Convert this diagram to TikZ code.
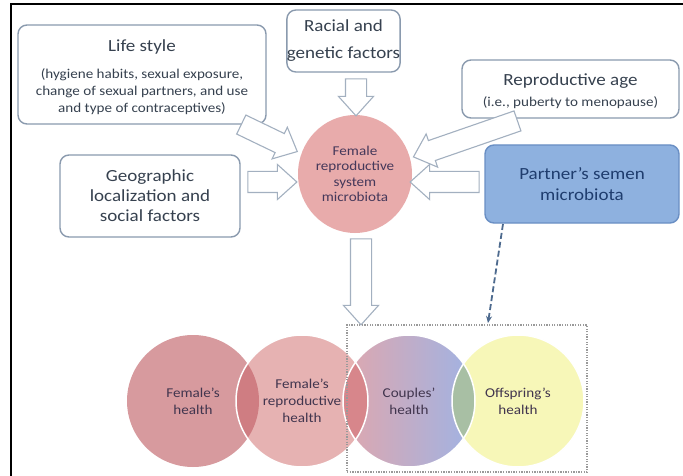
\documentclass[tikz,border=0pt]{standalone}
\usepackage{fontspec}
\setmainfont{Carlito}[FakeStretch=1.12]
\usetikzlibrary{shapes.geometric,shapes.arrows,arrows.meta,calc}
\definecolor{boxline}{HTML}{8A9AAE}
\definecolor{boxtext}{HTML}{36414F}
\definecolor{arrline}{HTML}{A3B0C0}
\definecolor{centerfill}{HTML}{E8ABAB}
\definecolor{centertext}{HTML}{45385A}
\definecolor{partnerfill}{HTML}{8EB1DF}
\definecolor{partnerline}{HTML}{6A8FC4}
\definecolor{partnertext}{HTML}{1F3D6E}
\definecolor{cone}{HTML}{D79A9E}
\definecolor{ctwo}{HTML}{E6B2B2}
\definecolor{cthreeL}{HTML}{DFA7AE}
\definecolor{cthreeR}{HTML}{9FB3E4}
\definecolor{cfour}{HTML}{F7F7B8}
\definecolor{lensA}{HTML}{CF7D82}
\definecolor{lensB}{HTML}{D7868B}
\definecolor{lensC}{HTML}{A8BFA4}
\definecolor{circtextc}{HTML}{41354E}
\definecolor{dashc}{HTML}{4D6A8E}
\definecolor{dotc}{HTML}{9A9A9A}
\newcommand{\hdrtxt}{\fontsize{17}{20}\selectfont}
\newcommand{\subtxt}{\fontsize{13.5}{17}\selectfont}
\begin{document}
\begin{tikzpicture}[x=1pt,y=-1pt,
  box/.style={draw=boxline, line width=1.4pt, rounded corners=9pt, fill=white,
    align=center, text=boxtext, inner sep=0pt},
  barrow/.style={single arrow, draw=arrline, fill=white, line width=1.1pt,
    inner xsep=0pt, inner ysep=10pt, single arrow head extend=7pt,
    single arrow tip angle=84, sloped, allow upside down, midway},
  ctext/.style={align=center, text=circtextc, inner sep=0pt,
    font=\fontsize{13.5}{17}\selectfont},
  circedge/.style={draw=white, line width=1.5pt}]
\useasboundingbox (0,0) rectangle (683,476);
\fill[white] (0,0) rectangle (683,476);
% frame
\draw[line width=2pt] (11,476) -- (11,4) -- (683,4);

% boxes
\node[box, font=\subtxt, minimum width=248pt, minimum height=99pt] (life) at (142,74.5)
  {{\hdrtxt\rule{0pt}{18pt}Life style}\\[10pt](hygiene habits, sexual exposure,\\
   change of sexual partners, and use\\ and type of contraceptives)};
\node[box, font=\hdrtxt, minimum width=109pt, minimum height=62pt] (racial) at (343.5,41)
  {Racial and\\[7pt]genetic factors};
\node[box, font=\subtxt, minimum width=217pt, minimum height=58pt] (repro) at (570.5,89)
  {{\hdrtxt\rule{0pt}{16pt}Reproductive age}\\[4pt](i.e., puberty to menopause)};
\node[box, font=\hdrtxt, minimum width=180pt, minimum height=82pt] (geo) at (150,196)
  {Geographic\\localization and\\social factors};
\node[box, font=\hdrtxt, fill=partnerfill, draw=partnerline, text=partnertext,
  minimum width=194pt, minimum height=78pt] (partner) at (582,184)
  {Partner’s semen\\[1pt]microbiota};

% center ellipse
\node[ellipse, fill=centerfill, minimum width=114pt, minimum height=118pt,
  inner sep=0pt, align=center, text=centertext,
  font=\fontsize{13.5}{15.5}\selectfont] (center) at (355,174)
  {Female\\reproductive\\system\\microbiota};

% hollow block arrows
\coordinate (ra1) at (356,73);  \coordinate (ra2) at (356,110);
\coordinate (la1) at (236,122); \coordinate (la2) at (292,149);
\coordinate (ga1) at (242,182); \coordinate (ga2) at (291,182);
\coordinate (pa1) at (523,119); \coordinate (pa2) at (419,155);
\coordinate (sa1) at (485,182); \coordinate (sa2) at (416,182);
\coordinate (da1) at (361,233); \coordinate (da2) at (361,319);
\foreach \a/\b in {ra1/ra2, la1/la2, ga1/ga2, pa1/pa2, sa1/sa2, da1/da2}{
  \path let \p1=($(\b)-(\a)$), \n1={veclen(\x1,\y1)} in
    (\a) -- (\b) node[barrow, minimum height=\n1] {};
}

% circles
\fill[cone] (193,401) circle[radius=66pt];
\fill[ctwo] (302,401) circle[radius=66pt];
\shade[left color=cthreeL, right color=cthreeR] (409,401) circle[radius=66pt];
\fill[cfour] (518,401) circle[radius=66pt];
\begin{scope}
  \clip (193,401) circle[radius=66pt];
  \fill[lensA] (302,401) circle[radius=66pt];
\end{scope}
\begin{scope}
  \clip (302,401) circle[radius=66pt];
  \fill[lensB] (409,401) circle[radius=66pt];
\end{scope}
\begin{scope}
  \clip (409,401) circle[radius=66pt];
  \fill[lensC] (518,401) circle[radius=66pt];
\end{scope}
\draw[circedge] (302,401) circle[radius=66pt];
\draw[circedge] (518,401) circle[radius=66pt];
\draw[circedge] (409,401) circle[radius=66pt];

\node[ctext] (t1) at (193,401) {Female’s\\health};
\node[ctext] (t2) at (302,401) {Female’s\\reproductive\\health};
\node[ctext] (t3) at (409,401) {Couples’\\health};
\node[ctext] (t4) at (518,401) {Offspring’s\\health};

% dotted group
\node[draw=dotc, line width=1.3pt, dash pattern=on 1.3pt off 1.3pt,
  minimum width=240pt, minimum height=147pt, inner sep=0pt] (group) at (467,398.5) {};

% dashed arrow
\coordinate (dstart) at (503,224);
\coordinate (dtip) at (488,323);
\draw[dashc, line width=1.8pt, dash pattern=on 6pt off 3pt,
  -{Stealth[length=7pt,width=6pt]}] (dstart) -- (dtip);
\end{tikzpicture}
\end{document}
